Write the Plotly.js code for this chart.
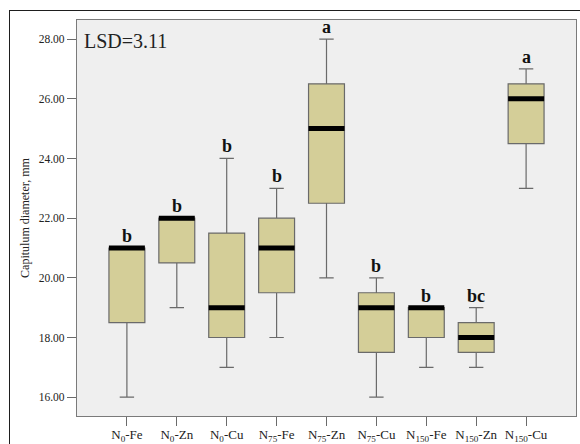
<!DOCTYPE html>
<html>
<head>
<meta charset="utf-8">
<script src="https://cdn.plot.ly/plotly-3.0.1.min.js"></script>
<style>
  html, body { margin: 0; padding: 0; background: #ffffff; }
  #wrap { position: relative; width: 580px; height: 444px; overflow: hidden; }
  #chart { position: absolute; left: 0; top: 0; width: 580px; height: 444px; }
  #frame {
    position: absolute; left: 9px; top: 10px; width: 640px; height: 520px;
    border-left: 1.5px solid #1e1e1e; border-top: 1.5px solid #1e1e1e;
    pointer-events: none;
  }
</style>
</head>
<body>
<div id="wrap">
  <div id="chart"></div>
  <div id="frame"></div>
</div>
<script>
// Treatment groups (nitrogen rate - micronutrient)
const groups = ['N<sub>0</sub>-Fe', 'N<sub>0</sub>-Zn', 'N<sub>0</sub>-Cu',
                'N<sub>75</sub>-Fe', 'N<sub>75</sub>-Zn', 'N<sub>75</sub>-Cu',
                'N<sub>150</sub>-Fe', 'N<sub>150</sub>-Zn', 'N<sub>150</sub>-Cu'];

// Box statistics of capitulum diameter (mm)
const lowerWhisker = [16, 19, 17, 18, 20, 16, 17, 17, 23];
const q1           = [18.5, 20.5, 18, 19.5, 22.5, 17.5, 18, 17.5, 24.5];
const medians      = [21, 22, 19, 21, 25, 19, 19, 18, 26];
const q3           = [21, 22, 21.5, 22, 26.5, 19.5, 19, 18.5, 26.5];
const upperWhisker = [21, 22, 24, 23, 28, 20, 19, 19, 27];

// Mean separation letters
const letters = ['b', 'b', 'b', 'b', 'a', 'b', 'b', 'bc', 'a'];
const lsdText = 'LSD=3.11';

const serif = 'Liberation Serif, Times New Roman, serif';

const boxTrace = {
  type: 'box',
  x: groups,
  q1: q1,
  median: medians,
  q3: q3,
  lowerfence: lowerWhisker,
  upperfence: upperWhisker,
  width: 0.72,
  whiskerwidth: 0.4,
  fillcolor: 'rgb(212,206,152)',
  line: { color: '#6a6a6a', width: 1.2 },
  hoverinfo: 'skip',
  showlegend: false
};

// Thick median bars
const medianTrace = {
  type: 'scatter',
  mode: 'markers',
  x: groups,
  y: medians,
  marker: {
    symbol: 'line-ew',
    size: 25.7,
    color: '#000000',
    line: { color: '#000000', width: 5 }
  },
  hoverinfo: 'skip',
  showlegend: false,
  cliponaxis: false
};

const annotations = groups.map((g, i) => ({
  x: g,
  y: upperWhisker[i],
  xref: 'x',
  yref: 'y',
  text: '<b>' + letters[i] + '</b>',
  showarrow: false,
  yanchor: 'bottom',
  yshift: 0,
  font: { family: serif, size: 18, color: '#111111' }
}));

annotations.push({
  xref: 'paper', yref: 'paper',
  x: 0.01, y: 0.946,
  xanchor: 'left', yanchor: 'middle',
  text: lsdText,
  showarrow: false,
  font: { family: serif, size: 20, color: '#222222' }
});

const layout = {
  width: 580,
  height: 444,
  margin: { l: 77, r: 4, t: 20, b: 28, pad: 0 },
  paper_bgcolor: 'rgba(0,0,0,0)',
  plot_bgcolor: '#efefef',
  showlegend: false,
  font: { family: serif, size: 12, color: '#222222' },
  xaxis: {
    type: 'category',
    range: [-1, 9],
    showgrid: false,
    zeroline: false,
    showline: true,
    mirror: true,
    linecolor: '#7a7a7a',
    linewidth: 1.2,
    ticks: 'outside',
    ticklen: 9,
    tickwidth: 1,
    tickcolor: '#6a6a6a',
    ticklabelstandoff: -3,
    tickfont: { family: serif, size: 13, color: '#222222' },
    fixedrange: true
  },
  yaxis: {
    range: [15.37, 28.64],
    tick0: 16,
    dtick: 2,
    tickformat: '.2f',
    showgrid: false,
    zeroline: false,
    showline: true,
    mirror: true,
    linecolor: '#7a7a7a',
    linewidth: 1.2,
    ticks: 'outside',
    ticklen: 9,
    tickwidth: 1,
    tickcolor: '#6a6a6a',
    tickfont: { family: serif, size: 11.5, color: '#222222' },
    title: {
      text: 'Capitulum diameter, mm',
      font: { family: serif, size: 12, color: '#222222' },
      standoff: 6
    },
    fixedrange: true
  },
  annotations: annotations
};

Plotly.newPlot('chart', [boxTrace, medianTrace], layout, { staticPlot: true, displayModeBar: false });
</script>
</body>
</html>
